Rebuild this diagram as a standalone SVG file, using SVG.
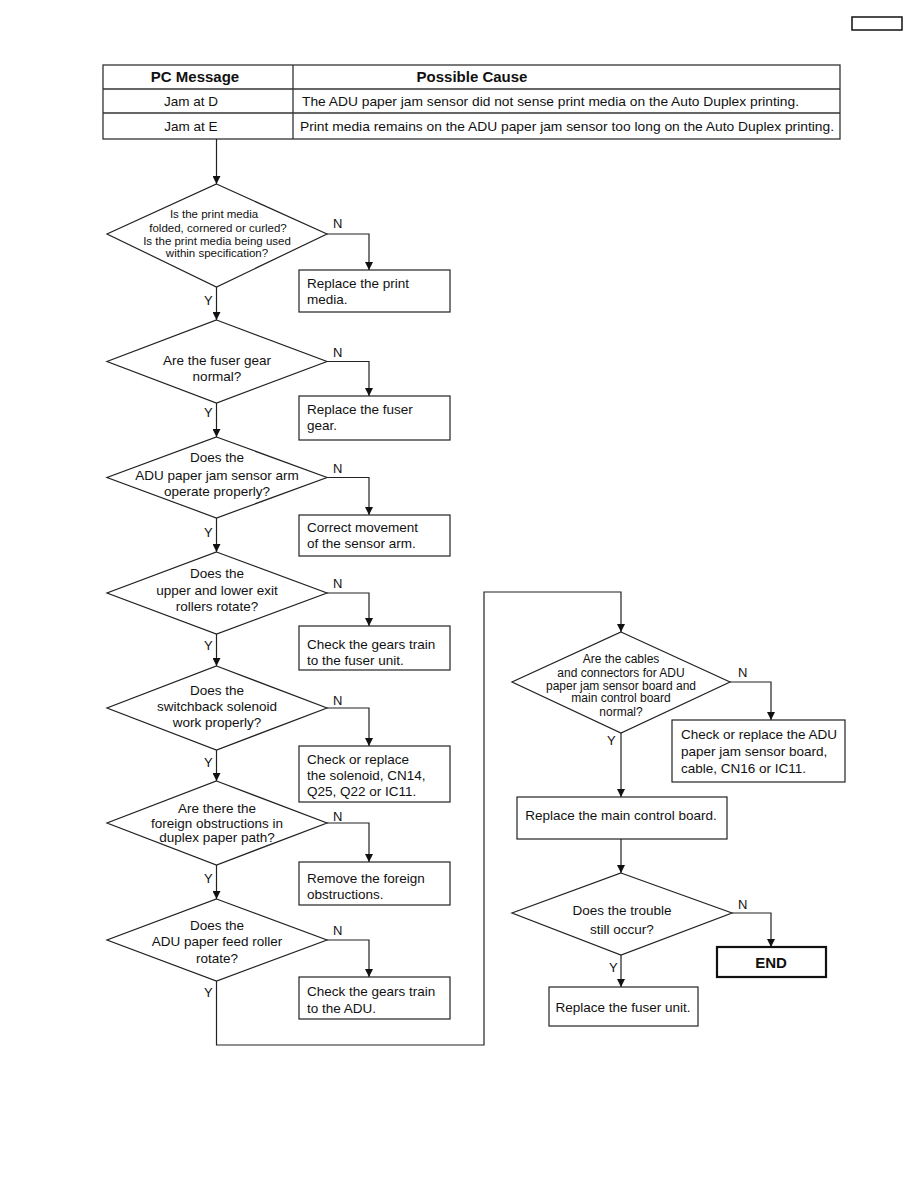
<svg xmlns="http://www.w3.org/2000/svg" width="918" height="1188" viewBox="0 0 918 1188">
<style>
text{font-family:"Liberation Sans",Arial,sans-serif;fill:#111;}
.t{font-size:13.5px;}
.s{font-size:11.5px;}
.s12{font-size:12px;}
.c{text-anchor:middle;}
.b{font-weight:bold;}
.shape{fill:#fff;stroke:#222;stroke-width:1.2;}
.tbl{fill:none;stroke:#333;stroke-width:1.3;}
.ln{fill:none;stroke:#222;stroke-width:1.2;}
.lab{font-size:13px;}
</style>
<defs>
<marker id="ah" viewBox="0 0 10 10" refX="10" refY="5" markerWidth="8" markerHeight="8" markerUnits="userSpaceOnUse" orient="auto">
<path d="M0,0 L10,5 L0,10 z" fill="#111"/>
</marker>
</defs>
<rect width="918" height="1188" fill="#fff"/>
<rect x="852" y="17" width="50" height="13" fill="none" stroke="#111" stroke-width="1.5"/>

<g id="table">
<rect class="tbl" x="103" y="65" width="737" height="74"/>
<line class="tbl" x1="103" y1="89" x2="840" y2="89"/>
<line class="tbl" x1="103" y1="113" x2="840" y2="113"/>
<line class="tbl" x1="293" y1="65" x2="293" y2="139"/>
<text class="c b" x="195" y="82" font-size="15">PC Message</text>
<text class="c b" x="472" y="82" font-size="15">Possible Cause</text>
<text class="t c" x="191" y="106">Jam at D</text>
<text class="t c" x="191" y="131">Jam at E</text>
<text class="t" x="302" y="106" textLength="497" lengthAdjust="spacingAndGlyphs">The ADU paper jam sensor did not sense print media on the Auto Duplex printing.</text>
<text class="t" x="300" y="131" textLength="534" lengthAdjust="spacingAndGlyphs">Print media remains on the ADU paper jam sensor too long on the Auto Duplex printing.</text>
</g>

<g id="connectors">
<path class="ln" d="M216.5,139 V184" marker-end="url(#ah)"/>
<path class="ln" d="M327,234 H369 V270" marker-end="url(#ah)"/>
<path class="ln" d="M216.5,287 V320" marker-end="url(#ah)"/>
<path class="ln" d="M327,361.5 H369 V396" marker-end="url(#ah)"/>
<path class="ln" d="M216.5,403 V437" marker-end="url(#ah)"/>
<path class="ln" d="M327,477.5 H369 V515" marker-end="url(#ah)"/>
<path class="ln" d="M216.5,518 V552" marker-end="url(#ah)"/>
<path class="ln" d="M327,593 H369 V626" marker-end="url(#ah)"/>
<path class="ln" d="M216.5,634 V666" marker-end="url(#ah)"/>
<path class="ln" d="M327,708 H369 V746" marker-end="url(#ah)"/>
<path class="ln" d="M216.5,750 V781" marker-end="url(#ah)"/>
<path class="ln" d="M327,823 H369 V862" marker-end="url(#ah)"/>
<path class="ln" d="M216.5,865 V899" marker-end="url(#ah)"/>
<path class="ln" d="M327,940 H369 V977" marker-end="url(#ah)"/>
<path class="ln" d="M216.5,981 V1045 H484 V592 H621 V632" marker-end="url(#ah)"/>
<path class="ln" d="M730,682 H771 V720" marker-end="url(#ah)"/>
<path class="ln" d="M621,733 V797" marker-end="url(#ah)"/>
<path class="ln" d="M621,839 V873" marker-end="url(#ah)"/>
<path class="ln" d="M732,913 H771 V947" marker-end="url(#ah)"/>
<path class="ln" d="M621,955 V987" marker-end="url(#ah)"/>
<text class="lab" x="333" y="228">N</text>
<text class="lab" x="204" y="305">Y</text>
<text class="lab" x="333" y="357">N</text>
<text class="lab" x="204" y="417">Y</text>
<text class="lab" x="333" y="473">N</text>
<text class="lab" x="204" y="537">Y</text>
<text class="lab" x="333" y="588">N</text>
<text class="lab" x="204" y="650">Y</text>
<text class="lab" x="333" y="705">N</text>
<text class="lab" x="204" y="767">Y</text>
<text class="lab" x="333" y="821">N</text>
<text class="lab" x="204" y="883">Y</text>
<text class="lab" x="333" y="935">N</text>
<text class="lab" x="204" y="997">Y</text>
<text class="lab" x="738" y="677">N</text>
<text class="lab" x="607" y="745">Y</text>
<text class="lab" x="738" y="909">N</text>
<text class="lab" x="609" y="972">Y</text>
</g>

<g id="d1">
<polygon class="shape" points="216.5,184 327,234 216.5,287 107,234"/>
<text class="s c" x="214" y="218">Is the print media</text>
<text class="s c" x="218" y="232">folded, cornered or curled?</text>
<text class="s c" x="217" y="245">Is the print media being used</text>
<text class="s c" x="217" y="257">within specification?</text>
</g>
<g id="b1">
<rect class="shape" x="299" y="270" width="151" height="42"/>
<text class="t" x="307" y="288">Replace the print</text>
<text class="t" x="307" y="304">media.</text>
</g>

<g id="d2">
<polygon class="shape" points="216.5,320 327,361.5 216.5,403 107,361.5"/>
<text class="t c" x="217" y="365">Are the fuser gear</text>
<text class="t c" x="217" y="381">normal?</text>
</g>
<g id="b2">
<rect class="shape" x="299" y="396" width="151" height="44"/>
<text class="t" x="307" y="414">Replace the fuser</text>
<text class="t" x="307" y="430">gear.</text>
</g>

<g id="d3">
<polygon class="shape" points="216.5,437 327,477.5 216.5,518 107,477.5"/>
<text class="t c" x="217" y="462">Does the</text>
<text class="t c" x="217" y="480">ADU paper jam sensor arm</text>
<text class="t c" x="217" y="496">operate properly?</text>
</g>
<g id="b3">
<rect class="shape" x="299" y="515" width="151" height="41"/>
<text class="t" x="307" y="532">Correct movement</text>
<text class="t" x="307" y="548">of the sensor arm.</text>
</g>

<g id="d4">
<polygon class="shape" points="216.5,552 327,593 216.5,634 107,593"/>
<text class="t c" x="217" y="578">Does the</text>
<text class="t c" x="217" y="595">upper and lower exit</text>
<text class="t c" x="217" y="611">rollers rotate?</text>
</g>
<g id="b4">
<rect class="shape" x="299" y="626" width="151" height="44"/>
<text class="t" x="307" y="649">Check the gears train</text>
<text class="t" x="307" y="665">to the fuser unit.</text>
</g>

<g id="d5">
<polygon class="shape" points="216.5,666 327,708 216.5,750 107,708"/>
<text class="t c" x="217" y="695">Does the</text>
<text class="t c" x="217" y="711">switchback solenoid</text>
<text class="t c" x="217" y="727">work properly?</text>
</g>
<g id="b5">
<rect class="shape" x="299" y="746" width="151" height="56"/>
<text class="t" x="307" y="764">Check or replace</text>
<text class="t" x="307" y="780">the solenoid, CN14,</text>
<text class="t" x="307" y="796">Q25, Q22 or IC11.</text>
</g>

<g id="d6">
<polygon class="shape" points="216.5,781 327,823 216.5,865 107,823"/>
<text class="t c" x="217" y="813">Are there the</text>
<text class="t c" x="217" y="828">foreign obstructions in</text>
<text class="t c" x="217" y="842">duplex paper path?</text>
</g>
<g id="b6">
<rect class="shape" x="299" y="862" width="151" height="43"/>
<text class="t" x="307" y="883">Remove the foreign</text>
<text class="t" x="307" y="899">obstructions.</text>
</g>

<g id="d7">
<polygon class="shape" points="216.5,899 327,940 216.5,981 107,940"/>
<text class="t c" x="217" y="930">Does the</text>
<text class="t c" x="217" y="946">ADU paper feed roller</text>
<text class="t c" x="217" y="963">rotate?</text>
</g>
<g id="b7">
<rect class="shape" x="299" y="977" width="151" height="42"/>
<text class="t" x="307" y="996">Check the gears train</text>
<text class="t" x="307" y="1013">to the ADU.</text>
</g>

<g id="d8">
<polygon class="shape" points="621,632 730,682 621,733 512,682"/>
<text class="s12 c" x="621" y="663">Are the cables</text>
<text class="s12 c" x="621" y="677">and connectors for ADU</text>
<text class="s12 c" x="621" y="690">paper jam sensor board and</text>
<text class="s12 c" x="621" y="702">main control board</text>
<text class="s12 c" x="621" y="716">normal?</text>
</g>
<g id="b8">
<rect class="shape" x="672" y="720" width="173" height="62"/>
<text class="t" x="681" y="739">Check or replace the ADU</text>
<text class="t" x="681" y="756">paper jam sensor board,</text>
<text class="t" x="681" y="773">cable, CN16 or IC11.</text>
</g>

<g id="b9">
<rect class="shape" x="517" y="797" width="210" height="42"/>
<text class="t c" x="621" y="820">Replace the main control board.</text>
</g>

<g id="d9">
<polygon class="shape" points="621,873 732,913 621,955 512,913"/>
<text class="t c" x="622" y="915">Does the trouble</text>
<text class="t c" x="622" y="934">still occur?</text>
</g>

<g id="end">
<rect x="717" y="947" width="109" height="30" fill="#fff" stroke="#111" stroke-width="2.2"/>
<text class="c b" x="771" y="968" font-size="15">END</text>
</g>

<g id="b10">
<rect class="shape" x="549" y="987" width="149" height="39"/>
<text class="t c" x="623" y="1012">Replace the fuser unit.</text>
</g>
</svg>
